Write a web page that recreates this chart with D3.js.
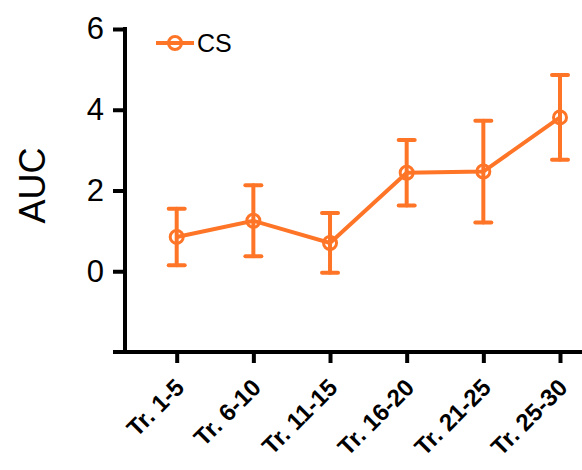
<!DOCTYPE html>
<html>
<head>
<meta charset="utf-8">
<script src="https://cdn.jsdelivr.net/npm/d3@7"></script>
<style>
  body { margin: 0; background: #fff; }
  svg { display: block; font-family: Arial, "Liberation Sans", sans-serif; }
</style>
</head>
<body>
<div id="chart"></div>
<script>
// data
var categories = ["Tr. 1-5", "Tr. 6-10", "Tr. 11-15", "Tr. 16-20", "Tr. 21-25", "Tr. 25-30"];
var means = [0.85, 1.25, 0.70, 2.44, 2.47, 3.81];
var errors = [0.70, 0.88, 0.74, 0.81, 1.26, 1.05];
var yTicks = [0, 2, 4, 6];
var seriesName = "CS";

var color = "#ff7527";
var W = 582, H = 470;

var svg = d3.select("#chart").append("svg")
    .attr("width", W)
    .attr("height", H);

// scales
var x = d3.scalePoint()
    .domain(categories)
    .range([176.7, 560]);

var y = d3.scaleLinear()
    .domain([-2, 6])
    .range([352, 29]);

var axisX0 = 113; // x axis line starts left of the y axis

// y axis
var yAxis = svg.append("g")
    .attr("transform", "translate(125,0)")
    .call(d3.axisLeft(y).tickValues(yTicks).tickSize(12).tickPadding(9).tickFormat(d3.format("d")));
yAxis.select(".domain").remove();
yAxis.append("line")
    .attr("x1", 0).attr("x2", 0)
    .attr("y1", y(6) - 2).attr("y2", y(-2) + 2)
    .attr("stroke", "#000").attr("stroke-width", 4);
yAxis.selectAll(".tick line").attr("stroke", "#000").attr("stroke-width", 4);
yAxis.selectAll(".tick text")
    .attr("fill", "#000")
    .style("font-size", "31px")
    .style("font-family", "Arial, 'Liberation Sans', sans-serif");

// x axis
var xAxis = svg.append("g")
    .attr("transform", "translate(0," + y(-2) + ")")
    .call(d3.axisBottom(x).tickSize(11).tickFormat(""));
xAxis.select(".domain").remove();
xAxis.append("line")
    .attr("x1", axisX0).attr("x2", W)
    .attr("y1", 0).attr("y2", 0)
    .attr("stroke", "#000").attr("stroke-width", 4);
xAxis.selectAll(".tick line").attr("stroke", "#000").attr("stroke-width", 4);

// rotated bold category labels
svg.append("g").selectAll("text")
    .data(categories)
    .enter()
    .append("text")
    .attr("transform", function(d) { return "translate(" + (x(d) + 9) + "," + (y(-2) + 37) + ") rotate(-45)"; })
    .attr("text-anchor", "end")
    .style("font-size", "24px")
    .style("font-weight", "bold")
    .attr("fill", "#000")
    .text(function(d) { return d; });

// y label
svg.append("text")
    .attr("transform", "translate(45," + (y(2) - 5) + ") rotate(-90)")
    .attr("text-anchor", "middle")
    .style("font-size", "36px")
    .attr("fill", "#000")
    .text("AUC");

var pts = categories.map(function(c, i) { return { c: c, m: means[i], e: errors[i] }; });

// error bars
var eb = svg.append("g")
    .attr("stroke", color)
    .attr("stroke-width", 4)
    .attr("stroke-linecap", "round");
eb.selectAll(".v")
    .data(pts).enter().append("line")
    .attr("x1", function(d) { return x(d.c); })
    .attr("x2", function(d) { return x(d.c); })
    .attr("y1", function(d) { return y(d.m + d.e); })
    .attr("y2", function(d) { return y(d.m - d.e); });
eb.selectAll(".t")
    .data(pts).enter().append("line")
    .attr("x1", function(d) { return x(d.c) - 8; })
    .attr("x2", function(d) { return x(d.c) + 8; })
    .attr("y1", function(d) { return y(d.m + d.e); })
    .attr("y2", function(d) { return y(d.m + d.e); });
eb.selectAll(".b")
    .data(pts).enter().append("line")
    .attr("x1", function(d) { return x(d.c) - 8; })
    .attr("x2", function(d) { return x(d.c) + 8; })
    .attr("y1", function(d) { return y(d.m - d.e); })
    .attr("y2", function(d) { return y(d.m - d.e); });

// line
svg.append("path")
    .datum(pts)
    .attr("fill", "none")
    .attr("stroke", color)
    .attr("stroke-width", 4)
    .attr("d", d3.line().x(function(d) { return x(d.c); }).y(function(d) { return y(d.m); }));

// open circle markers
svg.selectAll(".pt")
    .data(pts).enter().append("circle")
    .attr("cx", function(d) { return x(d.c); })
    .attr("cy", function(d) { return y(d.m); })
    .attr("r", 6.5)
    .attr("fill", "none")
    .attr("stroke", color)
    .attr("stroke-width", 3);

// legend
var lg = svg.append("g").attr("transform", "translate(156,43)");
lg.append("line")
    .attr("x1", 0).attr("x2", 38)
    .attr("y1", 0).attr("y2", 0)
    .attr("stroke", color).attr("stroke-width", 4);
lg.append("circle")
    .attr("cx", 19).attr("cy", 0).attr("r", 6.5)
    .attr("fill", "none").attr("stroke", color).attr("stroke-width", 3);
lg.append("text")
    .attr("x", 41).attr("y", 9)
    .style("font-size", "25px")
    .attr("fill", "#000")
    .text(seriesName);
</script>
</body>
</html>
